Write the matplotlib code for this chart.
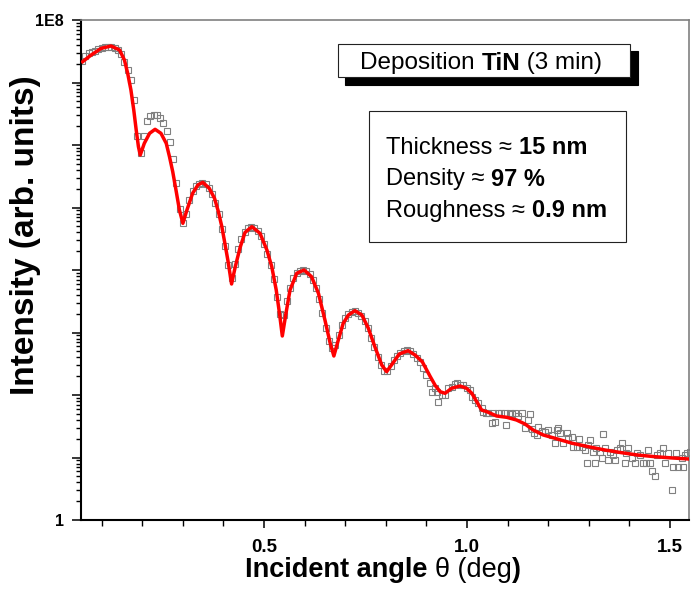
import numpy as np
import matplotlib
matplotlib.use("Agg")
import matplotlib.pyplot as plt
from matplotlib.patches import Rectangle
from matplotlib.ticker import FixedLocator, FixedFormatter, LogLocator, MultipleLocator, NullFormatter

plt.rcParams['font.family'] = ['Liberation Sans', 'DejaVu Sans']

meas_theta = [0.052, 0.060, 0.068, 0.076, 0.084, 0.092, 0.100, 0.108, 0.116, 0.124,
              0.132, 0.140, 0.148, 0.156, 0.164, 0.172, 0.180, 0.188, 0.196, 0.204,
              0.212, 0.220, 0.228, 0.236, 0.244, 0.252, 0.260, 0.268, 0.276, 0.284,
              0.292, 0.300, 0.308, 0.316, 0.324, 0.332, 0.340, 0.348, 0.356, 0.364,
              0.372, 0.380, 0.388, 0.396, 0.404, 0.412, 0.420, 0.428, 0.436, 0.444,
              0.452, 0.460, 0.468, 0.476, 0.484, 0.492, 0.500, 0.508, 0.516, 0.524,
              0.532, 0.540, 0.548, 0.556, 0.564, 0.572, 0.580, 0.588, 0.596, 0.604,
              0.612, 0.620, 0.628, 0.636, 0.644, 0.652, 0.660, 0.668, 0.676, 0.684,
              0.692, 0.700, 0.708, 0.716, 0.724, 0.732, 0.740, 0.748, 0.756, 0.764,
              0.772, 0.780, 0.788, 0.796, 0.804, 0.812, 0.820, 0.828, 0.836, 0.844,
              0.852, 0.860, 0.868, 0.876, 0.884, 0.892, 0.900, 0.908,
              0.913, 0.921, 0.925, 0.929, 0.938, 0.946, 0.954, 0.962, 0.970, 0.975,
              0.983, 0.991, 0.999, 1.007, 1.012, 1.020, 1.028, 1.036, 1.040, 1.046,
              1.052, 1.061, 1.065, 1.069, 1.077, 1.085, 1.094, 1.096, 1.106, 1.112,
              1.118, 1.126, 1.135, 1.143, 1.150, 1.155, 1.160, 1.166, 1.172, 1.176,
              1.184, 1.192, 1.200, 1.209, 1.217, 1.221, 1.225, 1.229, 1.237, 1.246,
              1.250, 1.258, 1.262, 1.270, 1.276, 1.283, 1.291, 1.295, 1.299, 1.303,
              1.311, 1.315, 1.319, 1.327, 1.332, 1.336, 1.340, 1.348, 1.352, 1.360,
              1.365, 1.369, 1.377, 1.381, 1.389, 1.393, 1.397, 1.406, 1.414, 1.418,
              1.426, 1.434, 1.442, 1.447, 1.451, 1.455, 1.463, 1.467, 1.475, 1.483,
              1.488, 1.496, 1.504, 1.508, 1.516, 1.520, 1.529, 1.533, 1.537, 1.541,
              1.549]
meas_log10 = [7.35, 7.42, 7.47, 7.49, 7.51, 7.53, 7.55, 7.565, 7.575, 7.575,
              7.56, 7.52, 7.46, 7.33, 7.20, 7.04, 6.72, 6.15, 5.87, 6.15,
              6.38, 6.46, 6.48, 6.48, 6.44, 6.36, 6.23, 6.05, 5.78, 5.40,
              4.98, 4.75, 4.90, 5.12, 5.26, 5.34, 5.38, 5.40, 5.38, 5.32,
              5.22, 5.08, 4.90, 4.66, 4.38, 4.08, 3.88, 4.10, 4.33, 4.50,
              4.61, 4.67, 4.69, 4.68, 4.63, 4.54, 4.42, 4.26, 4.08, 3.85,
              3.57, 3.30, 3.28, 3.50, 3.72, 3.87, 3.95, 3.99, 4.00, 3.98,
              3.93, 3.84, 3.71, 3.53, 3.32, 3.08, 2.87, 2.76, 2.80, 2.96,
              3.12, 3.23, 3.29, 3.33, 3.34, 3.32, 3.27, 3.19, 3.07, 2.92,
              2.77, 2.61, 2.48, 2.39, 2.38, 2.47, 2.56, 2.63, 2.68, 2.71,
              2.72, 2.70, 2.66, 2.60, 2.53, 2.43, 2.32, 2.20,
              2.05, 2.11, 2.05, 1.89, 2.00, 2.00, 2.11, 2.13, 2.17, 2.19,
              2.16, 2.16, 2.11, 2.08, 1.97, 1.92, 1.87, 1.79, 1.73, 1.72,
              1.71, 1.55, 1.71, 1.57, 1.71, 1.71, 1.71, 1.52, 1.71, 1.69,
              1.71, 1.66, 1.72, 1.47, 1.60, 1.69, 1.45, 1.39, 1.36, 1.49,
              1.43, 1.41, 1.44, 1.36, 1.23, 1.44, 1.47, 1.39, 1.23, 1.39,
              1.31, 1.33, 1.17, 1.17, 1.30, 1.17, 1.12, 0.91, 1.20, 1.28,
              1.09, 0.91, 1.15, 1.09, 0.99, 1.37, 1.15, 0.96, 1.09, 1.04,
              0.96, 1.12, 1.15, 1.24, 0.91, 1.07, 1.15, 0.99, 0.91, 1.07,
              1.04, 0.91, 0.91, 1.12, 0.91, 0.79, 0.70, 1.04, 1.07, 1.15,
              0.91, 1.07, 0.48, 0.85, 1.07, 0.85, 0.99, 0.85, 1.04, 1.07,
              1.09]

# simulated fit (red line)
fit_theta = [0.053, 0.074, 0.099, 0.123, 0.144, 0.156, 0.164, 0.172, 0.179, 0.185,
             0.1905, 0.195, 0.205, 0.218, 0.2315, 0.246, 0.259, 0.267, 0.275, 0.283,
             0.2915, 0.300, 0.310, 0.324, 0.337, 0.349, 0.365, 0.378, 0.3875, 0.396,
             0.402, 0.411, 0.420, 0.429, 0.441, 0.453, 0.470, 0.490, 0.507, 0.519,
             0.530, 0.538, 0.545, 0.554, 0.564, 0.5805, 0.5985, 0.617, 0.634, 0.650,
             0.663, 0.672, 0.683, 0.695, 0.708, 0.724, 0.741, 0.757, 0.773, 0.790,
             0.802, 0.817, 0.833, 0.855, 0.872, 0.890, 0.909, 0.922, 0.934, 0.946,
             0.962, 0.983, 0.999, 1.012, 1.024, 1.036, 1.049, 1.073, 1.098, 1.122,
             1.143, 1.163, 1.188, 1.217, 1.258, 1.299, 1.340, 1.381, 1.420, 1.463,
             1.500, 1.549]
fit_log10 = [7.333, 7.44, 7.547, 7.584, 7.52, 7.36, 7.147, 6.88, 6.56, 6.24,
             5.973, 5.84, 6.027, 6.187, 6.251, 6.187, 6.027, 5.813, 5.573, 5.28,
             4.96, 4.747, 4.96, 5.227, 5.36, 5.403, 5.307, 5.147, 4.933, 4.693,
             4.48, 4.15, 3.776, 4.05, 4.36, 4.60, 4.693, 4.587, 4.32, 4.053,
             3.68, 3.307, 2.944, 3.307, 3.68, 3.947, 4.0, 3.893, 3.627, 3.2,
             2.827, 2.624, 2.88, 3.147, 3.28, 3.349, 3.28, 3.067, 2.773, 2.48,
             2.373, 2.507, 2.656, 2.709, 2.64, 2.53, 2.30, 2.15, 2.053, 2.027,
             2.107, 2.144, 2.107, 2.027, 1.893, 1.76, 1.733, 1.664, 1.643, 1.60,
             1.536, 1.44, 1.36, 1.307, 1.23, 1.173, 1.12, 1.077, 1.04, 1.013,
             0.995, 0.975]

meas_I = 10 ** np.array(meas_log10)
fit_I = 10 ** np.array(fit_log10)

W, H = 691, 608
fig = plt.figure(figsize=(W / 100, H / 100), dpi=100)


def fx(px):
    return px / W


def fy(py):
    return 1 - py / H


ax = fig.add_axes([fx(81), fy(520), fx(689) - fx(81), fy(20) - fy(520)])
ax.plot(meas_theta, meas_I, ls='none', marker='s', ms=4.2, mfc='none',
        mec='#808080', mew=0.8, zorder=2)
ax.plot(fit_theta, fit_I, color='red', lw=2.5, zorder=3)

ax.set_yscale('log')
ax.set_xlim(0.049, 1.547)
ax.set_ylim(1, 1e8)

# ticks
ax.yaxis.set_major_locator(FixedLocator([10.0 ** k for k in range(9)]))
ax.yaxis.set_major_formatter(FixedFormatter(['1', '', '', '', '', '', '', '', '1E8']))
ax.yaxis.set_minor_locator(LogLocator(base=10, subs=range(2, 10), numticks=20))
ax.yaxis.set_minor_formatter(NullFormatter())
ax.xaxis.set_major_locator(FixedLocator([0.5, 1.0, 1.5]))
ax.xaxis.set_major_formatter(FixedFormatter(['0.5', '1.0', '1.5']))
ax.xaxis.set_minor_locator(MultipleLocator(0.1))

ax.tick_params(axis='y', which='major', length=6.5, width=1.1, pad=6, labelsize=11.5)
ax.tick_params(axis='y', which='minor', length=3.6, width=1.0)
ax.tick_params(axis='x', which='major', length=6, width=1.1, pad=8, labelsize=13.5)
ax.tick_params(axis='x', which='minor', length=4.3, width=1.0)
for lab in ax.get_xticklabels() + ax.get_yticklabels():
    lab.set_fontweight('bold')

for side in ['left', 'bottom']:
    ax.spines[side].set_linewidth(1.5)
    ax.spines[side].set_color('black')
for side in ['top', 'right']:
    ax.spines[side].set_linewidth(1.2)
    ax.spines[side].set_color('#808080')


# text made of regular and bold pieces on one baseline
def draw_parts(x_px, y_px, parts, size):
    renderer = fig.canvas.get_renderer()
    x = x_px
    for s, weight in parts:
        t = fig.text(fx(x), fy(y_px), s, fontsize=size, fontweight=weight,
                     va='baseline', ha='left', zorder=5)
        x += t.get_window_extent(renderer=renderer).width


def box(x0, y0, x1, y1, face, edge, lw):
    fig.add_artist(Rectangle((fx(x0), fy(y1)), fx(x1) - fx(x0), fy(y0) - fy(y1),
                             transform=fig.transFigure, facecolor=face,
                             edgecolor=edge, lw=lw, zorder=2))


# title box with shadow
box(345, 51, 638, 85, 'black', 'black', 0.8)
box(338, 44, 630, 77, 'white', '#222222', 0.8)
draw_parts(360, 69.5, [("Deposition ", 'normal'), ("TiN", 'bold'), (" (3 min)", 'normal')], 17.5)

# parameter box
box(369, 111, 626, 242, 'white', '#222222', 0.8)
draw_parts(386, 154, [("Thickness \u2248 ", 'normal'), ("15 nm", 'bold')], 17)
draw_parts(386, 185.5, [("Density \u2248 ", 'normal'), ("97 %", 'bold')], 17)
draw_parts(386, 216.7, [("Roughness \u2248 ", 'normal'), ("0.9 nm", 'bold')], 17)

# axis labels
draw_parts(245, 577, [("Incident angle ", 'bold'), ("\u03b8 (deg", 'normal'), (")", 'bold')], 19.5)
fig.text(fx(26), fy(235), 'Intensity (arb. units)', rotation=90, fontsize=24,
         fontweight='bold', ha='center', va='center')

fig.savefig('out.png', dpi=100)
